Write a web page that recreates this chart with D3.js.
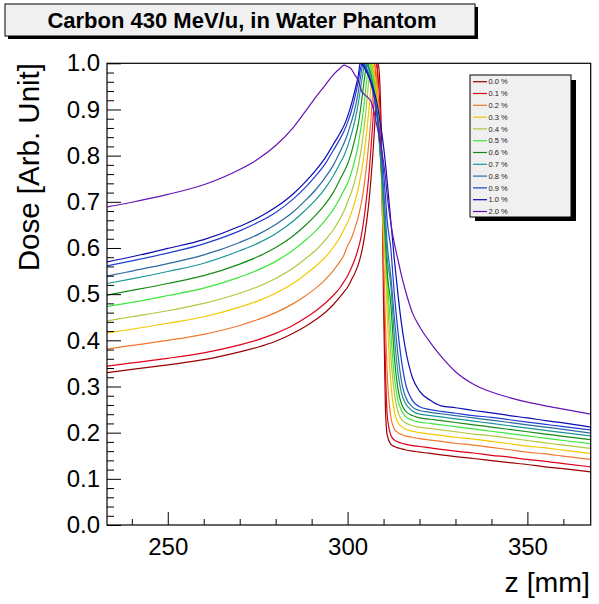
<!DOCTYPE html>
<html><head><meta charset="utf-8">
<script src="https://d3js.org/d3.v7.min.js"></script>
<style>html,body{margin:0;padding:0;background:#fff;}svg{display:block;}</style>
</head><body>
<script>
// depth grid (mm)
const zGrid = [233.1,240,250,260,270,275,280,285,288,291,294,296,298,299,300,301,302,303,303.5,304,304.5,305,305.5,306,306.5,307,307.5,308,308.5,309,309.5,310,310.5,311,312,313,314,315,316,318,320,323,326,330,335,340,345,350,355,360,367.6];

const dose00 = [.330,.337,.347,.358,.375,.385,.398,.416,.429,.444,.462,.477,
 .495,.505,.515,.53,.545,.565,.578,.595,.615,.64,.67,.705,.75,.80,.86,.93,1.0,
 .95,.80,.48,.26,.195,.175,.17,.167,.165,.163,.16,.158,.155,.152,.148,.144,.1395,.135,.131,.126,.122,.115];
const dose01 = [.344,.351,.361,.373,.390,.401,.415,.433,.447,.463,.482,.497,
 .515,.527,.54,.556,.575,.60,.615,.635,.66,.69,.725,.765,.815,.87,.935,1.0,
 .97,.90,.76,.55,.35,.24,.195,.184,.18,.177,.175,.172,.17,.167,.164,.160,.156,.151,.147,.142,.138,.133,.126];
const dose02 = [.381,.389,.400,.413,.432,.445,.460,.480,.495,.512,.533,.551,
 .572,.585,.605,.62,.642,.668,.685,.705,.73,.76,.795,.835,.88,.935,1.0,
 .975,.93,.85,.74,.58,.44,.33,.235,.208,.2,.196,.193,.19,.187,.184,.181,.177,.173,.168,.163,.158,.154,.149,.142];
const dose03 = [.416,.424,.437,.451,.472,.485,.502,.524,.541,.560,.582,.601,
 .625,.64,.655,.675,.70,.73,.75,.772,.80,.83,.865,.905,.95,1.0,
 .98,.95,.9,.83,.74,.63,.56,.46,.31,.245,.222,.213,.208,.203,.2,.197,.194,.190,.186,.181,.176,.171,.167,.162,.155];
const dose04 = [.442,.451,.464,.480,.502,.516,.534,.557,.575,.594,.619,.639,
 .665,.68,.70,.72,.745,.778,.80,.825,.855,.89,.93,.97,1.0,
 .985,.96,.925,.88,.82,.745,.66,.58,.51,.37,.285,.245,.229,.222,.215,.212,.209,.206,.202,.197,.193,.188,.183,.178,.173,.166];
const dose05 = [.473,.482,.497,.513,.537,.552,.571,.596,.615,.636,.662,.683,
 .71,.725,.74,.762,.79,.825,.85,.875,.905,.94,.975,1.0,
 .99,.97,.945,.91,.87,.815,.75,.68,.61,.54,.42,.32,.27,.248,.236,.227,.223,.22,.217,.213,.208,.203,.198,.193,.188,.183,.176];
const dose06 = [.498,.508,.523,.540,.565,.581,.601,.627,.647,.670,.697,.720,
 .75,.765,.782,.805,.835,.87,.895,.925,.955,.985,1.0,
 .99,.975,.955,.93,.9,.86,.81,.755,.69,.62,.55,.48,.365,.295,.262,.248,.237,.232,.229,.226,.222,.217,.212,.207,.202,.197,.192,.185];
const dose07 = [.523,.533,.549,.567,.594,.610,.631,.659,.680,.703,.732,.756,
 .785,.80,.82,.845,.875,.915,.94,.965,.99,1.0,
 .995,.985,.97,.95,.925,.895,.86,.815,.765,.705,.64,.58,.52,.41,.33,.285,.265,.247,.24,.237,.234,.230,.225,.220,.215,.210,.205,.200,.193];
const dose08 = [.539,.550,.566,.585,.612,.629,.651,.679,.701,.725,.755,.779,
 .81,.827,.847,.872,.90,.94,.965,.99,1.0,
 .995,.985,.975,.96,.945,.925,.9,.87,.83,.785,.73,.67,.61,.54,.45,.37,.31,.28,.256,.248,.244,.241,.237,.232,.227,.222,.217,.212,.207,.199];
const dose09 = [.561,.572,.589,.609,.637,.655,.677,.707,.729,.755,.785,.811,
 .838,.853,.872,.895,.925,.962,.985,1.0,
 .997,.99,.98,.968,.955,.94,.922,.9,.875,.845,.81,.765,.715,.66,.6,.5,.42,.355,.31,.27,.256,.25,.246,.242,.237,.233,.228,.223,.218,.213,.206];
const dose10 = [.570,.581,.599,.618,.647,.665,.688,.718,.741,.767,.798,.824,
 .85,.865,.885,.91,.94,.975,1.0,
 .998,.993,.985,.978,.97,.96,.948,.935,.92,.9,.875,.85,.82,.785,.745,.66,.575,.5,.435,.385,.32,.29,.27,.258,.254,.248,.243,.237,.232,.226,.221,.212];
const dose20 = [.689,.699,.716,.737,.770,.792,.822,.862,.893,.925,.955,.975,
 .99,.996,.993,.988,.975,.962,.95,
 .938,.934,.93,.927,.923,.918,.905,.89,.87,.852,.83,.81,.785,.755,.715,
 .655,.61,.575,.54,.51,.46,.43,.395,.365,.332,.305,.288,.276,.266,.258,.251,.240];

const seriesLabels = ["0.0 %","0.1 %","0.2 %","0.3 %","0.4 %","0.5 %","0.6 %","0.7 %","0.8 %","0.9 %","1.0 %","2.0 %"];
const seriesValues = [dose00,dose01,dose02,dose03,dose04,dose05,dose06,dose07,dose08,dose09,dose10,dose20];
const seriesColors = ["#9a0000","#e0001a","#f07830","#f2c800","#b0c83c","#3ee63e","#168c16","#1a9696","#2c6aa0","#1e3ed2","#0c0cb4","#6614b4"];

const xMajorTicks = [250,300,350];
const yMajorTicks = [0,0.1,0.2,0.3,0.4,0.5,0.6,0.7,0.8,0.9,1.0];

const W = 599, H = 604;
const svg = d3.select("body").append("svg").attr("width",W).attr("height",H);
svg.append("rect").attr("width",W).attr("height",H).attr("fill","#fff");

const x = d3.scaleLinear().domain([233.1,367.6]).range([107,590.7]);
const y = d3.scaleLinear().domain([0,1]).range([525,63.3]);
const font = "Liberation Sans, Arial, Helvetica, sans-serif";

svg.append("clipPath").attr("id","clip").append("rect")
  .attr("x",107).attr("y",63.3).attr("width",590.7-107).attr("height",525-63.3);

const line = d3.line().x((d,i)=>x(zGrid[i])).y(d=>y(d)).curve(d3.curveMonotoneX);
const g = svg.append("g").attr("clip-path","url(#clip)");
seriesValues.forEach((vals,k)=>{
  g.append("path").attr("d",line(vals)).attr("fill","none")
   .attr("stroke",seriesColors[k]).attr("stroke-width",1.2).attr("stroke-linejoin","round");
});

svg.append("rect").attr("x",107).attr("y",63.3).attr("width",590.7-107).attr("height",525-63.3)
  .attr("fill","none").attr("stroke","#000").attr("stroke-width",1.2);

const xMinor = d3.range(240,361,10).filter(v=>v%50!==0);
const xMinAx = d3.axisBottom(x).tickValues(xMinor).tickSize(-6).tickFormat("");
const xMajAx = d3.axisBottom(x).tickValues(xMajorTicks).tickSize(-13).tickPadding(13).tickFormat(d3.format("d"));
[xMinAx,xMajAx].forEach(ax=>{
  const gg = svg.append("g").attr("transform","translate(0,525)").call(ax);
  gg.select(".domain").remove();
  gg.selectAll("line").attr("stroke","#000");
  gg.selectAll("text").attr("font-family",font).attr("font-size",24).attr("fill","#000");
});

const yMinor = d3.range(0,51).map(i=>i*0.02).filter(v=>Math.abs(v*10-Math.round(v*10))>1e-6);
const yMinAx = d3.axisLeft(y).tickValues(yMinor).tickSize(-7).tickFormat("");
const yMajAx = d3.axisLeft(y).tickValues(yMajorTicks).tickSize(-14).tickPadding(7).tickFormat(d3.format(".1f"));
[yMinAx,yMajAx].forEach(ax=>{
  const gg = svg.append("g").attr("transform","translate(107,0)").call(ax);
  gg.select(".domain").remove();
  gg.selectAll("line").attr("stroke","#000");
  gg.selectAll("text").attr("font-family",font).attr("font-size",24).attr("fill","#000");
});

svg.append("text").attr("x",590).attr("y",592).attr("text-anchor","end")
  .attr("font-family",font).attr("font-size",28.5).text("z [mm]");
svg.append("text").attr("transform","translate(39,63) rotate(-90)").attr("text-anchor","end")
  .attr("font-family",font).attr("font-size",29.5).text("Dose [Arb. Unit]");

svg.append("rect").attr("x",8).attr("y",36).attr("width",470).attr("height",3).attr("fill","#000");
svg.append("rect").attr("x",475).attr("y",7).attr("width",3).attr("height",32).attr("fill","#000");
svg.append("rect").attr("x",5).attr("y",4).attr("width",470).attr("height",32)
  .attr("fill","#f0f0f0").attr("stroke","#000").attr("stroke-width",1);
svg.append("text").attr("x",242).attr("y",28).attr("text-anchor","middle")
  .attr("font-family",font).attr("font-weight","bold").attr("font-size",22).text("Carbon 430 MeV/u, in Water Phantom");

const lg = svg.append("g");
lg.append("rect").attr("x",571).attr("y",80).attr("width",5).attr("height",141).attr("fill","#000");
lg.append("rect").attr("x",475).attr("y",217).attr("width",101).attr("height",4).attr("fill","#000");
lg.append("rect").attr("x",470).attr("y",75).attr("width",101).attr("height",142)
  .attr("fill","#f0f0f0").attr("stroke","#000").attr("stroke-width",1);
seriesLabels.forEach((lab,i)=>{
  const yy = 81.7 + i*11.8;
  lg.append("line").attr("x1",473).attr("x2",487).attr("y1",yy).attr("y2",yy)
    .attr("stroke",seriesColors[i]).attr("stroke-width",1.2);
  lg.append("text").attr("x",488.5).attr("y",yy).attr("dy","0.35em")
    .attr("font-family",font).attr("font-size",7.5).attr("fill","#222").text(lab);
});
</script>
</body></html>
